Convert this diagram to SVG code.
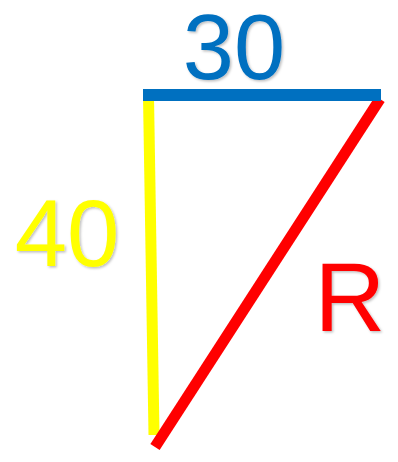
<svg xmlns="http://www.w3.org/2000/svg" width="398" height="462" viewBox="0 0 398 462">
<defs>
<style>
.lbl{font-family:"Liberation Sans",Arial,sans-serif;text-anchor:middle;filter:url(#sh)}
.seg{fill:none;stroke-linecap:butt}
</style>
<filter id="sh" x="-20%" y="-20%" width="150%" height="150%">
<feDropShadow dx="1.5" dy="1.5" stdDeviation="1.2" flood-color="#000" flood-opacity="0.25"/>
</filter>
</defs>
<rect width="398" height="462" fill="#fff"/>
<g id="connectors">
<line id="side-40" class="seg" x1="148.5" y1="96" x2="154" y2="435" stroke="#FFFF00" stroke-width="11"/>
<line id="side-R" class="seg" x1="380" y1="99" x2="155" y2="447" stroke="#FF0000" stroke-width="11"/>
<line id="side-30" class="seg" x1="143" y1="95" x2="381" y2="95" stroke="#0070C0" stroke-width="12"/>
</g>
<g id="label-30"><text class="lbl" x="234" y="79" font-size="92" fill="#0070C0">30</text></g>
<g id="label-40"><text class="lbl" x="67" y="266" font-size="94" fill="#FFFF00">40</text></g>
<g id="label-R"><text class="lbl" x="350" y="331" font-size="98" fill="#FF0000">R</text></g>
</svg>
